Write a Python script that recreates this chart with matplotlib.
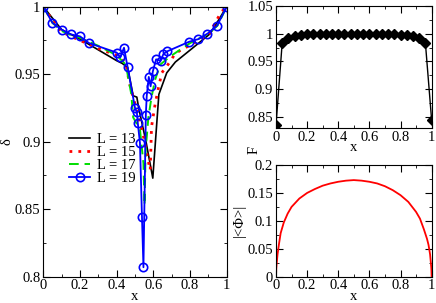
import matplotlib
matplotlib.use("Agg")
import matplotlib.pyplot as plt
from matplotlib.ticker import MultipleLocator

plt.rcParams['font.family'] = ['Liberation Serif', 'DejaVu Serif']
plt.rcParams['font.size'] = 10.5

# left panel: delta vs x for several L
x13 = [0, 0.1, 0.2, 0.3, 0.4, 0.43, 0.46, 0.49, 0.51, 0.52, 0.56, 0.597, 0.63, 0.673, 0.72, 0.82, 0.91, 1.0]
d13 = [1, 0.983, 0.976, 0.968, 0.96, 0.958, 0.955, 0.934, 0.933, 0.925, 0.90, 0.873, 0.935, 0.951, 0.959, 0.970, 0.980, 1.0]

x15 = [0, 0.05, 0.1, 0.15, 0.2, 0.3, 0.4, 0.45, 0.47, 0.49, 0.52, 0.546, 0.573, 0.583, 0.59, 0.61, 0.628, 0.646,
       0.69, 0.72, 0.82, 0.9, 0.97, 1.0]
d15 = [1, 0.990, 0.9815, 0.978, 0.975, 0.969, 0.964, 0.958, 0.943, 0.933, 0.918, 0.904, 0.885, 0.879, 0.911, 0.928,
       0.940, 0.951, 0.959, 0.9655, 0.973, 0.979, 0.996, 1.0]

x17 = [0, 0.05, 0.1, 0.15, 0.2, 0.25, 0.3, 0.4, 0.45, 0.48, 0.49, 0.527, 0.546, 0.552, 0.558, 0.573, 0.59, 0.61,
       0.637, 0.69, 0.8, 0.9, 0.95, 1.0]
d17 = [1, 0.988, 0.982, 0.979, 0.977, 0.974, 0.971, 0.964, 0.957, 0.935, 0.918, 0.909, 0.884, 0.853, 0.894, 0.918,
       0.933, 0.946, 0.957, 0.963, 0.973, 0.980, 0.986, 1.0]

x19 = [0, 0.05, 0.1, 0.15, 0.2, 0.25, 0.4, 0.42, 0.44, 0.46, 0.5, 0.51, 0.515, 0.527, 0.538, 0.546, 0.559, 0.564,
       0.575, 0.585, 0.597, 0.615, 0.64, 0.655, 0.677, 0.795, 0.846, 0.895, 0.948, 1.0]
d19 = [1, 0.988, 0.983, 0.9795, 0.978, 0.973, 0.966, 0.9625, 0.9696, 0.955, 0.925, 0.922, 0.914, 0.899, 0.844,
       0.807, 0.92, 0.934, 0.948, 0.941, 0.952, 0.961, 0.96, 0.965, 0.967, 0.974, 0.976, 0.980, 0.986, 1.0]

# top right: F vs x
xf = [0, 0.04, 0.08, 0.12, 0.16, 0.2, 0.24, 0.28, 0.32, 0.36, 0.4, 0.44, 0.48, 0.52, 0.56, 0.6, 0.64, 0.68,
      0.72, 0.76, 0.8, 0.84, 0.88, 0.92, 0.96, 1.0]
ff = [0.835, 0.984, 0.993, 0.9957, 0.9974, 0.999, 0.9995, 1.0, 1.0, 1.0, 1.0, 1.0, 1.0, 1.0, 1.0, 1.0, 1.0, 1.0,
      0.9995, 0.999, 0.9985, 0.998, 0.996, 0.993, 0.983, 0.844]

# bottom right: |<Phi>| vs x
xp = [0, 0.002, 0.005, 0.01, 0.02, 0.03, 0.05, 0.075, 0.1, 0.15, 0.2, 0.25, 0.3, 0.35, 0.4, 0.45, 0.5, 0.55,
      0.6, 0.65, 0.7, 0.75, 0.8, 0.85, 0.9, 0.925, 0.95, 0.97, 0.98, 0.99, 0.995, 0.998, 1.0]
pp = [0, 0.015, 0.025, 0.04, 0.06, 0.078, 0.097, 0.113, 0.125, 0.140, 0.150, 0.157, 0.163, 0.167, 0.170, 0.172,
      0.173, 0.172, 0.170, 0.167, 0.162, 0.155, 0.146, 0.134, 0.116, 0.104, 0.085, 0.068, 0.057, 0.04, 0.025,
      0.015, 0]

fig = plt.figure(figsize=(4.36, 3.03), dpi=100)
ax1 = fig.add_axes([0.0993, 0.0868, 0.4207, 0.8912])
ax2 = fig.add_axes([0.633, 0.5776, 0.357, 0.4024])
ax3 = fig.add_axes([0.633, 0.0868, 0.357, 0.3686])


def style(ax):
    ax.tick_params(which='both', direction='in', top=True, right=True, pad=2)
    ax.tick_params(which='major', length=5)
    ax.tick_params(which='minor', length=2.5)
    ax.xaxis.set_major_locator(MultipleLocator(0.2))
    ax.xaxis.set_minor_locator(MultipleLocator(0.1))
    ax.xaxis.set_major_formatter(plt.FuncFormatter(lambda v, p: '%g' % round(v, 3)))
    ax.yaxis.set_major_formatter(plt.FuncFormatter(lambda v, p: '%g' % round(v, 3)))
    ax.set_xlim(0, 1)


style(ax1)
ax1.plot(x13, d13, color='black', lw=1.2, label='L = 13')
ax1.plot(x15, d15, color='red', lw=2, ls=(0, (1, 2.2)), label='L = 15')
ax1.plot(x17, d17, color='#00dd00', lw=1.4, ls=(0, (5, 3)), label='L = 17')
ax1.plot(x19, d19, color='blue', lw=1.3, marker='o', mfc='none', ms=6, mew=1.2, label='L = 19')
ax1.set_ylim(0.8, 1.0)
ax1.yaxis.set_major_locator(MultipleLocator(0.05))
ax1.yaxis.set_minor_locator(MultipleLocator(0.025))
ax1.set_xlabel('x', labelpad=-2)
ax1.set_ylabel('δ', labelpad=1)
ax1.legend(loc='upper left', bbox_to_anchor=(0.11, 0.555), frameon=False, handlelength=1.4,
           handletextpad=0.5, labelspacing=0.0, borderaxespad=0)

style(ax2)
ax2.plot(xf, ff, color='black', lw=1, marker='D', ms=5)
ax2.set_ylim(0.83, 1.05)
ax2.yaxis.set_major_locator(MultipleLocator(0.05))
ax2.yaxis.set_minor_locator(MultipleLocator(0.025))
ax2.set_xlabel('x', labelpad=-2)
ax2.set_ylabel('F')
# the F label sits low, level with the x label
ax2.yaxis.set_label_coords(-0.10, -0.18)

style(ax3)
ax3.plot(xp, pp, color='red', lw=1.3)
ax3.set_ylim(0, 0.2)
ax3.yaxis.set_major_locator(MultipleLocator(0.05))
ax3.yaxis.set_minor_locator(MultipleLocator(0.025))
ax3.set_xlabel('x', labelpad=-2)
ax3.set_ylabel('|<Φ>|', labelpad=1)

fig.savefig('out.png', dpi=100)
